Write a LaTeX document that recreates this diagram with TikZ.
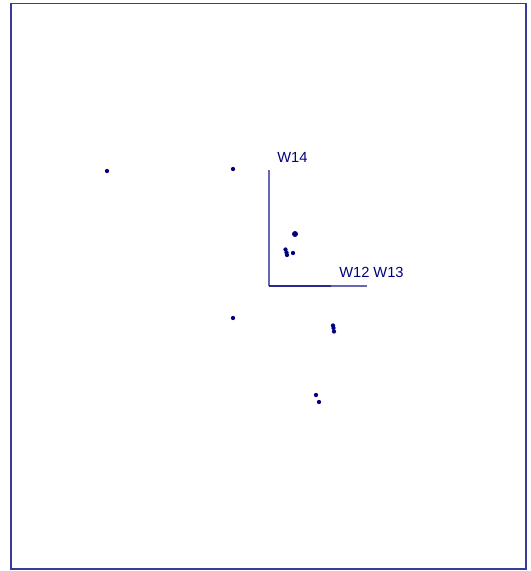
\documentclass[tikz,border=0pt]{standalone}
\usepackage{fontspec}
\setmainfont{Liberation Sans}
\usetikzlibrary{positioning}
\definecolor{plotnavy}{HTML}{000080}
\definecolor{framenavy}{HTML}{3A3A9A}

\begin{document}
\begin{tikzpicture}[
    x=0.75pt, y=-0.75pt,
    font=\fontsize{11}{13}\selectfont,
    frame/.style={draw=framenavy, line width=1pt},
    axis/.style={draw=plotnavy, draw opacity=0.6, line width=1.2pt},
    axislabel/.style={text=plotnavy, anchor=base west, inner sep=0pt},
    sample/.style={circle, fill=plotnavy, inner sep=0pt, minimum size=3.2pt},
    bigsample/.style={sample, minimum size=4.5pt}
]

\useasboundingbox (0,0) rectangle (531,571);
\draw[frame] (11,3.5) rectangle (526,569);

% axes
\coordinate (O) at (269,286);
\coordinate (W14end) at (269,170);
\coordinate (W12end) at (367,286);
\coordinate (W13end) at (331,286);
\draw[axis] (O) -- (W14end);
\draw[axis] (O) -- (W12end);
\draw[axis] (O) -- (W13end);

\node[axislabel] (L14) at (277,162) {W14};
\node[axislabel] (L1213) at (339,277) {W12 W13};

% samples
\node[sample] (s1) at (107,171) {};
\node[sample] (s2) at (233,169) {};
\node[bigsample] (s3) at (295,234) {};
\node[sample] (s4) at (285.5,249.5) {};
\node[sample] (s5) at (286.5,252.5) {};
\node[sample] (s6) at (287,255) {};
\node[sample] (s7) at (293,253) {};
\node[sample] (s8) at (233,318) {};
\node[sample] (s9) at (333,325.5) {};
\node[sample] (s10) at (333.5,328) {};
\node[sample] (s11) at (334,331.5) {};
\node[sample] (s12) at (316,395) {};
\node[sample] (s13) at (319,402) {};

\end{tikzpicture}
\end{document}
